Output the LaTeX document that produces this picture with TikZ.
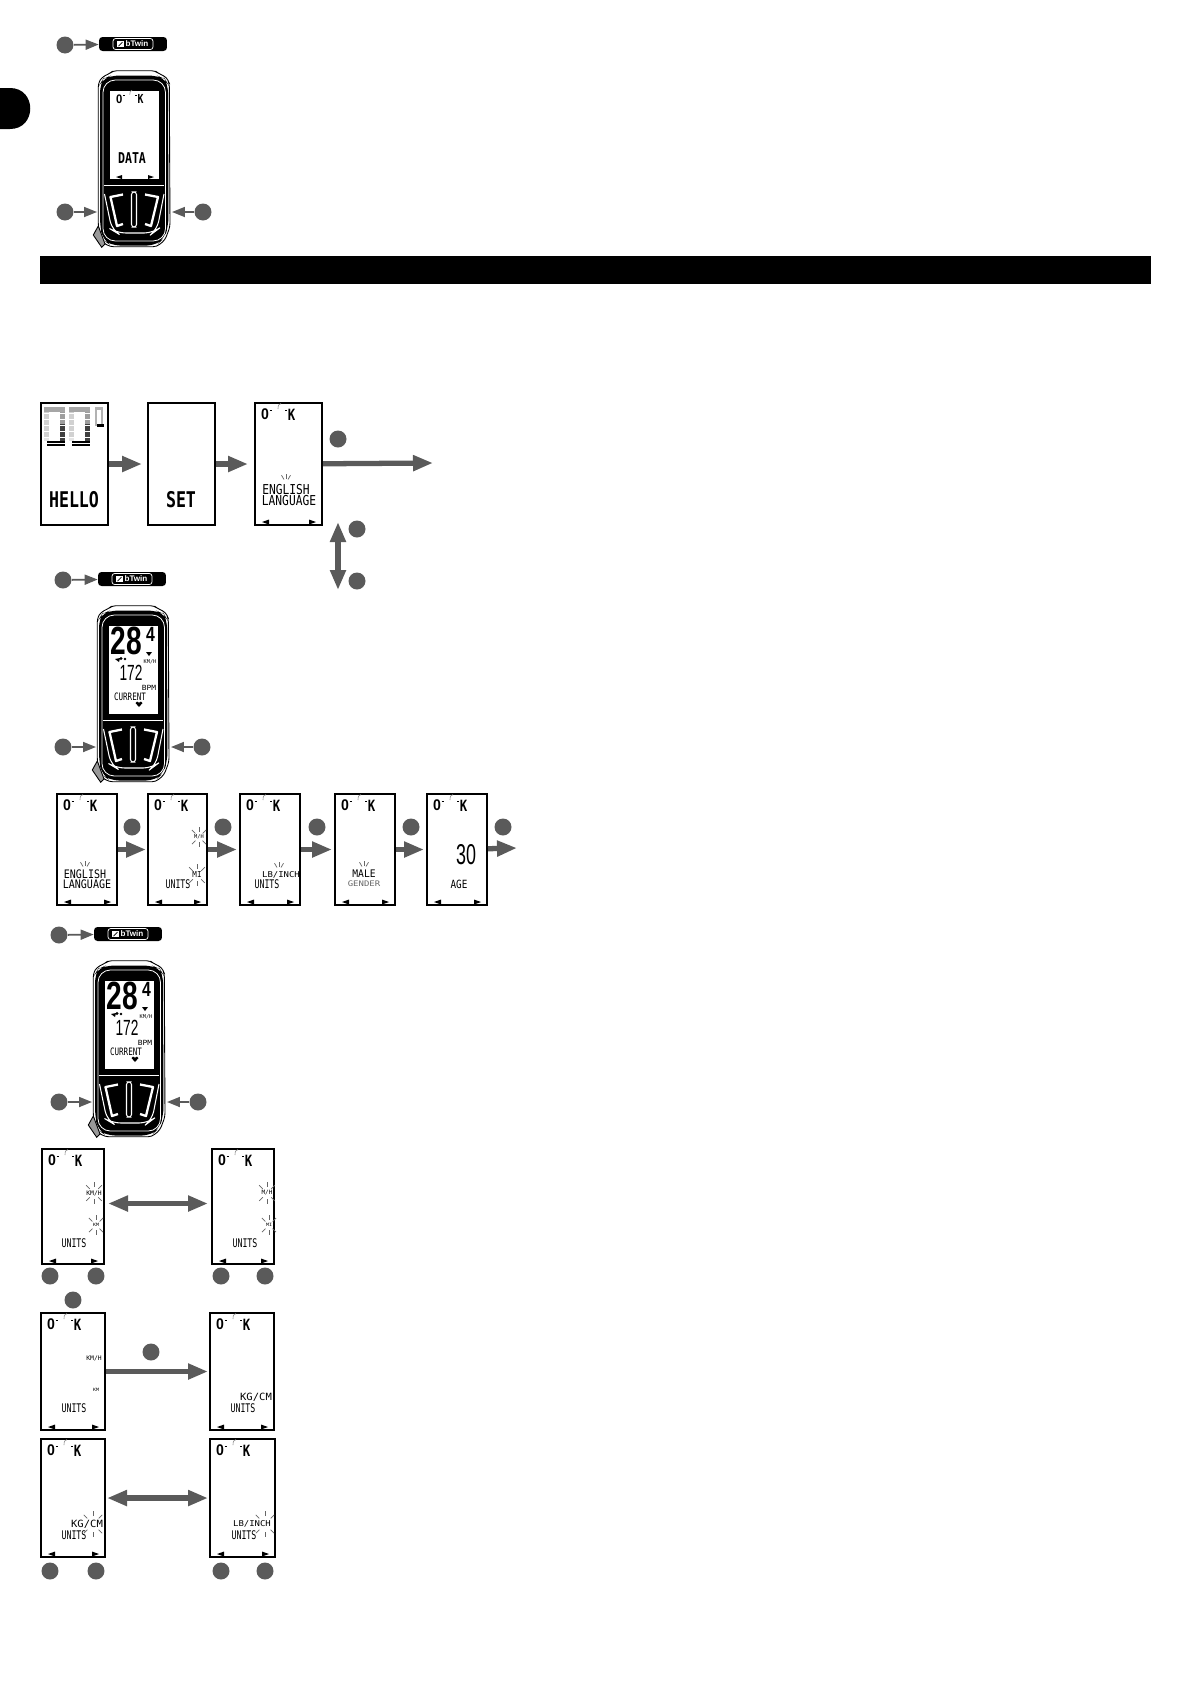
\documentclass[tikz,border=0pt]{standalone}
\usepackage{fontspec}
\setmainfont{Liberation Sans}
\newfontfamily\lcdfont{DejaVu Sans Mono}
\usetikzlibrary{positioning,arrows.meta}
\definecolor{dotgray}{HTML}{5A5A5A}

% screen deco: header and the two soft-key triangles
\newcommand{\scrdeco}[1]{%
  \pic at (#1.north west) {hdr};
  \fill ([shift={(8,-4)}]#1.south west) -- ++(7,-2.5) -- ++(0,5) -- cycle;
  \fill ([shift={(-7,-4)}]#1.south east) -- ++(-7,-2.5) -- ++(0,5) -- cycle;
}

\tikzset{
  lcd/.style 2 args  = {font=\lcdfont\fontsize{#1}{#1}\selectfont, yscale=0.9*#2,
                        transform shape, inner sep=0pt},
  lcdb/.style 2 args = {lcd={#1}{#2}, font=\lcdfont\bfseries\fontsize{#1}{#1}\selectfont},
  num/.style 2 args  = {font=\fontsize{#1}{#1}\selectfont, yscale=#2,
                        transform shape, inner sep=0pt},
  numb/.style 2 args = {num={#1}{#2}, font=\bfseries\fontsize{#1}{#1}\selectfont},
  scr/.style 2 args  = {draw, line width=1.15pt, minimum width=#1*0.02cm,
                        minimum height=#2*0.02cm, anchor=north west, inner sep=0pt,
                        xshift=-0.02cm, yshift=0.02cm},
  dot/.style   = {circle, fill=dotgray, minimum size=0.34cm, inner sep=0pt},
  arr/.style   = {draw=dotgray, line width=1pt,
                  -{Triangle[length=0.26cm,width=0.2cm]}},
  bigarr/.style = {draw=dotgray, line width=3pt,
                   -{Triangle[length=0.4cm,width=0.3cm]}},
  dblarr/.style = {draw=dotgray, line width=3pt,
                   {Triangle[length=0.4cm,width=0.3cm]}-{Triangle[length=0.4cm,width=0.3cm]}},
  rayln/.style = {draw=black!60, line width=0.4pt},
  rays/.pic = {
    \foreach \a in {45,90,135,225,270,315} \draw[rayln] (\a:#1) -- (\a:#1+5);
  },
  topray/.pic = {
    \foreach \a in {240,270,300} \draw[rayln] (\a:4) -- (\a:9);
  },
  hdr/.pic = {
    \node[numb={8}{1.1}] (-o) at (11,12.5) {0};
    \draw[line width=0.5pt] (15.5,8) -- (18,8);
    \draw[black!45, line width=0.35pt] (24,7) .. controls (24,3) and (25,2) .. (27,1.5);
    \draw[line width=0.5pt] (31,8) -- (33,8);
    \node[lcdb={7}{1.4}] (-k) at (37.5,12.5) {K};
  },
  band/.pic = {
    \node[fill=black, rounded corners=2pt, minimum width=1.36cm, minimum height=0.28cm, inner sep=0pt] (-box) at (0,0) {};
    \node[draw=white, rounded corners=1.5pt, line width=0.4pt, minimum width=0.8cm, minimum height=0.22cm,
          inner sep=0pt] (-frame) at (0,0) {};
    \node[fill=white, minimum size=0.13cm, inner sep=0pt] (-logo) at (-12.5,0) {};
    \draw[line width=0.4pt] (-14.5,2) -- (-10.5,-2);
    \node[text=white, font=\bfseries\fontsize{4.6}{4.6}\selectfont, inner sep=0pt] (-txt) at (4,0) {bTwin};
  },
  device/.pic = {
    % shell
    \draw[line width=0.5pt, fill=white, rounded corners=2pt]
      (5.3,13.3) -- (8.7,7.3) -- (17,3.3) -- (20.3,0.7) -- (62,0.7) -- (65.3,3.3) -- (73.7,7.3)
      -- (76.3,13.3) -- (77,156.7) -- (72,170) -- (63.7,176.7) -- (17,176.7) -- (8.7,171.7)
      -- (5.3,156.7) -- cycle;
    \draw[line width=0.5pt, fill=black!40] (5.3,156) -- (0.3,165) -- (8.7,177.3) -- (12,174) -- cycle;
    \fill[rounded corners=5pt]
      (7,14) -- (10,9) -- (18,5.5) -- (64,5.5) -- (72,9) -- (75,14) -- (75.5,156)
      -- (71,168.5) -- (63,175.5) -- (18,175.5) -- (10,170) -- (7,156) -- cycle;
    \draw[white, line width=0.45pt, rounded corners=7pt] (10,10) rectangle (72.5,171);
    % buttons
    \draw[white, line width=0.45pt] (11,115.7) -- (71,115.7);
    \draw[white, line width=0.6pt, rounded corners=5pt] (11.5,124) -- (19,160) -- (24,163) -- (60,163) -- (64,160) -- (71,124);
    \draw[white, line width=1.3pt, line join=round] (30,124.5) -- (17.5,127) -- (24,156) -- (30,154);
    \draw[white, line width=1.3pt, line join=round] (52,124.5) -- (65,127) -- (58,156) -- (52,154);
    \draw[white, line width=0.6pt, fill=black, rounded corners=1.5pt] (38.5,122) rectangle (43.5,157);
    \coordinate (-lft) at (4,142);
    \coordinate (-rgt) at (79,142);
  },
  readout/.pic = {
    \node[numb={16}{1.4}] (-sp) at (34.5,36) {28};
    \node[numb={9}{1.3}] (-dec) at (58.5,29.5) {4};
    \fill (54,47) -- (60,47) -- (57,51) -- cycle;
    \node[lcd={3}{1.1}] (-kmh) at (58,56.5) {KM/H};
    \fill (23,54) -- (28,53) -- (27,57) -- cycle;
    \fill (29,53.5) circle (1.6) (33,54) circle (1.3);
    \node[num={7.8}{1.6}] (-hr) at (39,68) {172};
    \node[lcd={4.5}{1}] (-bpm) at (57,83) {BPM};
    \node[lcd={4.3}{1.5}] (-cur) at (38,92) {CURRENT};
    \fill (47,102) -- (43.5,98) -- (45,96.5) -- (47,97.8) -- (49,96.5) -- (50.5,98) -- cycle;
  }
}

\begin{document}
\begin{tikzpicture}[x=0.02cm,y=-0.02cm]
\useasboundingbox (0,0) rectangle (1191,1684);

% --- side tab and title bar ---------------------------------------------
\fill (0,88) -- (10,88) .. controls (37,88) and (37,129) .. (10,129) -- (0,129) -- cycle;
\node[fill=black, minimum width=22.22cm, minimum height=0.56cm, anchor=north west, inner sep=0pt] (bar) at (40,256) {};

% --- first device -------------------------------------------------------
\pic (b1) at (133,44) {band};
\node[dot] (d1) at (65,45) {};
\draw[arr] (d1) -- (b1-box);
\pic (dev1) at (93,70) {device};
\node[scr={49}{88}, fill=white, draw=none] (ds1) at (110,91) {};
\pic[scale=0.8] at ([shift={(1.5,-1)}]ds1.north west) {hdr};
\fill ([shift={(7,-3)}]ds1.south west) -- ++(6,-2) -- ++(0,4) -- cycle;
\fill ([shift={(-6,-3)}]ds1.south east) -- ++(-6,-2) -- ++(0,4) -- cycle;
\node[lcdb={6.6}{1.43}] (tdata) at (132,158) {DATA};
\node[dot] (d2) at (65,212) {};
\node[dot] (d3) at (203,212) {};
\draw[arr] (d2) -- (dev1-lft |- d2);
\draw[arr] (d3) -- (dev1-rgt |- d3);

% --- hello row ----------------------------------------------------------
\node[scr={67}{122}] (hello) at (41,403) {};
\node[scr={67}{122}] (setb) at (148,403) {};
\node[scr={67}{122}] (lang) at (255,403) {};
\scrdeco{lang}
\foreach \dx in {0,25} {
  \fill[black!18] (44+\dx,409) rectangle (49+\dx,438);
  \fill[black!35] (44+\dx,407) rectangle (65+\dx,412);
  \fill[black!38] (60+\dx,412) rectangle (65+\dx,424);
  \fill[black!75] (60+\dx,424) rectangle (65+\dx,441);
  \fill[black!10] (44+\dx,438) rectangle (49+\dx,441);
  \fill (47+\dx,441) rectangle (65+\dx,446);
  \foreach \yy in {413,419,425,431,437,443} \draw[white, line width=0.12pt] (44+\dx,\yy) -- (65+\dx,\yy);
}
\draw[black!30, line width=1.2pt] (96,408.5) rectangle (102,425);
\fill (97,423.5) rectangle (104,427);
\node[lcdb={9.45}{1.45}] (thello) at (74,500) {HELLO};
\node[lcdb={9.45}{1.45}] (tset) at (181,500) {SET};
\node[lcd={6.4}{1.35}] (teng) at (286,490) {ENGLISH};
\node[lcd={6.4}{1.35}] (tlang) at (289,501) {LANGUAGE};
\pic at (286,483) {topray};
\coordinate (end1) at (433,463);
\node[dot] (d4) at (338,439) {};
\draw[bigarr, shorten >=0.1cm] (hello) -- (setb);
\draw[bigarr, shorten >=0.12cm] (setb) -- (lang);
\draw[bigarr] (lang) -- (end1);
\coordinate (updn1) at (338,522);
\coordinate (updn2) at (338,590);
\draw[dblarr] (updn1) -- (updn2);
\node[dot] (d5) at (357,529) {};
\node[dot] (d6) at (357,581) {};

% --- second device ------------------------------------------------------
\pic (b2) at (132,579) {band};
\node[dot] (d7) at (63,580) {};
\draw[arr] (d7) -- (b2-box);
\pic (dev2) at (92,605) {device};
\node[scr={49}{88}, fill=white, draw=none] (ds2) at (109,626) {};
\pic at (92,605) {readout};
\node[dot] (d8) at (63,747) {};
\node[dot] (d9) at (202,747) {};
\draw[arr] (d8) -- (dev2-lft |- d8);
\draw[arr] (d9) -- (dev2-rgt |- d9);

% --- settings row -------------------------------------------------------
\node[scr={60}{111}] (r1) at (57,794) {};
\node[scr={59}{111}] (r2) at (148,794) {};
\node[scr={60}{111}] (r3) at (240,794) {};
\node[scr={60}{111}] (r4) at (335,794) {};
\node[scr={60}{111}] (r5) at (427,794) {};
\foreach \n in {r1,r2,r3,r4,r5} { \scrdeco{\n} }
\node[lcd={5.7}{1.3}] (t1a) at (85,874) {ENGLISH};
\node[lcd={5.7}{1.3}] (t1b) at (87,884) {LANGUAGE};
\pic at (85,870) {topray};
\node[lcd={3}{1.1}] (t2a) at (199,837) {M/H};
\pic at (199,837) {rays=5};
\node[lcd={4.3}{1.2}] (t2b) at (197,875) {MI};
\pic at (197,875) {rays=6};
\node[lcd={4.7}{1.6}] (t2c) at (178,884) {UNITS};
\node[lcd={5.1}{1}] (t3a) at (281,875) {LB/INCH};
\node[lcd={4.7}{1.6}] (t3b) at (267,884) {UNITS};
\pic at (279,871) {topray};
\node[lcd={5.5}{1.2}] (t4a) at (364,874) {MALE};
\node[lcd={5.1}{0.95}, text=black!60] (t4b) at (364,884) {GENDER};
\pic at (364,870) {topray};
\node[num={10.2}{1.6}] (t5a) at (466,855) {30};
\node[lcd={5.3}{1.35}] (t5b) at (459,884) {AGE};
\coordinate (end2) at (517,848);
\node[dot] (e1) at (132,827) {};
\node[dot] (e2) at (223,827) {};
\node[dot] (e3) at (317,827) {};
\node[dot] (e4) at (411,827) {};
\node[dot] (e5) at (503,827) {};
\draw[bigarr, shorten >=0.02cm] (r1) -- (r2);
\draw[bigarr, shorten >=0.04cm] (r2) -- (r3);
\draw[bigarr, shorten >=0.04cm] (r3) -- (r4);
\draw[bigarr, shorten >=0.04cm] (r4) -- (r5);
\draw[bigarr] (r5) -- (end2);

% --- third device -------------------------------------------------------
\pic (b3) at (128,934) {band};
\node[dot] (d10) at (59,935) {};
\draw[arr] (d10) -- (b3-box);
\pic (dev3) at (88,960) {device};
\node[scr={49}{88}, fill=white, draw=none] (ds3) at (105,981) {};
\pic at (88,960) {readout};
\node[dot] (d11) at (59,1102) {};
\node[dot] (d12) at (198,1102) {};
\draw[arr] (d11) -- (dev3-lft |- d11);
\draw[arr] (d12) -- (dev3-rgt |- d12);

% --- unit screens -------------------------------------------------------
\node[scr={62}{115}] (u1) at (42,1149) {};
\node[scr={62}{115}] (u2) at (212,1149) {};
\node[scr={64}{117}] (u3) at (41,1313) {};
\node[scr={64}{117}] (u4) at (210,1313) {};
\node[scr={64}{118}] (u5) at (41,1439) {};
\node[scr={65}{118}] (u6) at (210,1439) {};
\foreach \n in {u1,u2,u3,u4,u5,u6} { \scrdeco{\n} }

\node[lcd={3.6}{1.1}] (a1) at (94,1193) {KM/H};
\pic at (94,1193) {rays=6};
\node[lcd={2.8}{1}] (a2) at (96,1225) {KM};
\pic at (96,1225) {rays=5};
\node[lcd={4.7}{1.6}] (a3) at (74,1243) {UNITS};
\node[lcd={3.4}{1.1}] (b1t) at (267,1193) {M/H};
\pic at (267,1193) {rays=6};
\node[lcd={2.8}{1}] (b2t) at (269,1225) {MI};
\pic at (269,1225) {rays=5};
\node[lcd={4.7}{1.6}] (b3t) at (245,1243) {UNITS};

\node[lcd={3.6}{1.1}] (c1) at (94,1358) {KM/H};
\node[lcd={2.8}{1}] (c2) at (96,1390) {KM};
\node[lcd={4.7}{1.6}] (c3) at (74,1408) {UNITS};
\node[lcd={6}{1.05}] (c4) at (256,1397) {KG/CM};
\node[lcd={4.7}{1.6}] (c5) at (243,1408) {UNITS};

\node[lcd={6}{1.05}] (f1) at (87,1524) {KG/CM};
\node[lcd={4.7}{1.6}] (f2) at (74,1535) {UNITS};
\pic at (93,1524) {rays=8};
\node[lcd={5.1}{1}] (f3) at (252,1524) {LB/INCH};
\node[lcd={4.7}{1.6}] (f4) at (244,1535) {UNITS};
\pic at (265,1524) {rays=8};

\node[dot] (g1) at (50,1276) {};
\node[dot] (g2) at (96,1276) {};
\node[dot] (g3) at (221,1276) {};
\node[dot] (g4) at (265,1276) {};
\node[dot] (g5) at (73,1300) {};
\node[dot] (g6) at (151,1352) {};
\node[dot] (g7) at (50,1571) {};
\node[dot] (g8) at (96,1571) {};
\node[dot] (g9) at (221,1571) {};
\node[dot] (g10) at (265,1571) {};

\draw[dblarr, shorten <=0.06cm, shorten >=0.06cm] ([yshift=0.06cm]u1.east) -- ([yshift=0.06cm]u2.west);
\draw[bigarr, shorten >=0.02cm] (u3) -- (u4);
\draw[dblarr, shorten <=0.02cm, shorten >=0.02cm] (u5) -- (u6);
\end{tikzpicture}
\end{document}
